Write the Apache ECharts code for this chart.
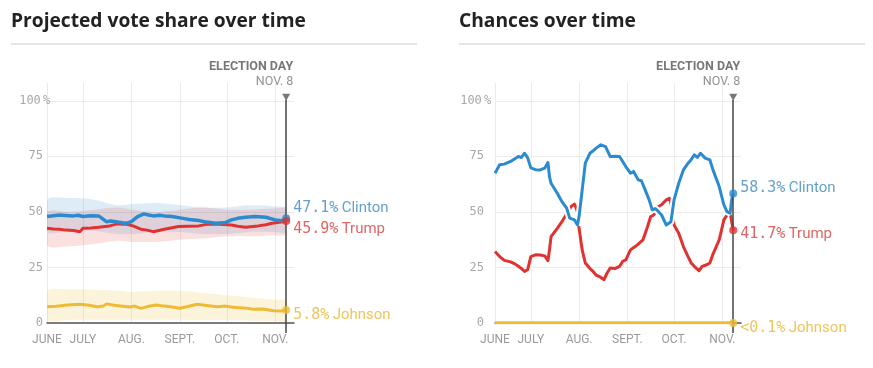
<!DOCTYPE html>
<html><head><meta charset="utf-8">
<script src="https://cdn.jsdelivr.net/npm/echarts@6/dist/echarts.min.js"></script>
<style>html,body{margin:0;padding:0;background:#fff}#c{width:873px;height:368px}</style>
</head><body><div id="c"></div>
<script>
// ---------- axis / tick data ----------
const monthDays = [0, 23, 54, 85, 115, 146];           // days since June 8
const monthLabels = ['JUNE', 'JULY', 'AUG.', 'SEPT.', 'OCT.', 'NOV.'];
const yTicks = [0, 25, 50, 75, 100];
const electionDay = 153;                                 // Nov. 8
const candidates = ['Clinton', 'Trump', 'Johnson'];

// ---------- Projected vote share ----------
const vsClintonDays = [0,4,8,12,17,20,23,28,33,35,38,41,44,48,51,54,56,58,62,65,68,72,75,80,86,91,97,102,108,114,118,122,127,133,140,146,151,153];
const vsClinton     = [47.9,48.3,48.6,48.4,48.2,48.5,47.9,48.3,48.2,47.2,45.6,45.9,45.6,45.1,44.9,45.6,46.8,47.9,49.1,48.6,48.2,48.5,48.2,47.9,47.2,46.6,46.1,45.4,44.9,45.2,46.4,47.1,47.6,47.9,47.6,46.4,46.0,47.1];
const vsTrumpDays = [0,4,8,12,17,21,23,28,33,40,45,51,55,60,64,68,75,80,84,90,97,103,110,118,122,127,135,140,144,150,153];
const vsTrump     = [42.6,42.3,42.2,41.8,41.6,41.1,42.6,42.8,43.1,43.7,44.6,44.4,43.7,42.2,41.8,41.1,42.2,42.9,43.4,43.5,43.7,44.5,44.4,44.1,43.5,43.1,43.7,44.2,44.9,45.4,45.9];
const vsJohnsonDays = [0,6,13,21,27,32,36,38,43,47,53,56,60,65,70,75,80,85,90,96,102,109,114,119,126,132,138,145,150,153];
const vsJohnson     = [7.3,7.5,8.1,8.4,8.0,7.3,7.6,8.6,8.0,7.7,7.2,7.6,6.6,7.5,8.1,7.6,7.2,6.6,7.4,8.4,7.9,7.3,7.6,7.1,6.8,6.2,6.3,5.5,5.4,5.8];
const bandDays   = [0,15,30,45,55,70,85,100,115,130,145,153];
const clintonHi  = [55.5,56.2,55.5,53.0,53.5,54.0,53.0,52.0,52.0,53.0,52.5,51.5];
const clintonLo  = [41.0,41.5,41.5,40.0,40.0,41.0,41.0,40.0,40.0,41.0,41.0,41.0];
const trumpHi    = [50.0,50.0,51.0,52.0,51.0,50.0,51.0,52.0,51.0,51.0,51.5,51.5];
const trumpLo    = [35.0,34.5,35.5,37.0,36.5,36.5,37.5,38.0,39.0,39.0,39.5,40.0];
const johnsonHi  = [14.5,15.0,15.0,14.5,14.0,14.5,14.5,13.5,12.5,11.5,10.5,10.0];
const johnsonLo  = [1.5,1.5,1.5,1.5,1.5,1.5,1.5,1.3,1.2,1.0,1.0,1.0];
const vsFinal     = [47.1, 45.9, 5.8];
const vsFinalText = ['47.1%', '45.9%', '5.8%'];

// ---------- Chances over time ----------
const chClintonDays = [0,3,6,10,13,15,17,19,21,23,26,29,32,34,35,36,40,43,46,48,51,53,54,56,58,61,63,65,68,71,74,77,80,82,84,87,89,92,94,96,99,101,103,105,107,110,113,115,118,121,124,126,128,130,132,135,138,140,144,147,149,151,152,153];
const chClinton     = [67.4,71.2,71.5,72.7,74.0,74.9,74.5,76.4,74.3,69.8,69.0,68.9,69.7,72.2,65.9,62.9,58.4,54.6,51.7,47.2,46.4,44.1,47.9,59.9,71.9,76.4,77.5,78.7,80.2,79.4,74.9,75.0,74.9,72.7,70.4,67.4,68.2,64.4,64.0,60.7,55.4,50.9,51.5,50.1,48.6,44.1,45.6,55.4,62.9,68.9,71.9,73.5,75.7,74.5,76.4,74.2,73.4,68.9,61.4,53.2,50.1,49.4,55.4,58.3];
const chTrumpDays = [0,3,6,10,13,15,17,19,21,23,26,29,32,34,35,36,40,43,45,48,49,51,52,53,54,56,58,61,63,65,68,70,72,74,77,80,82,84,87,90,92,95,98,100,102,105,107,110,112,113,115,118,121,124,126,128,131,133,136,138,140,144,147,149,151,152,153];
const chTrump     = [32.2,29.9,28.2,27.5,26.5,25.5,24.5,23.2,24.0,29.9,30.7,30.6,30.2,28.0,33.0,38.9,42.6,45.6,47.9,51.5,52.5,53.5,52.0,50.0,42.6,32.9,27.0,24.5,23.2,21.5,20.5,19.5,22.5,24.7,24.5,25.5,27.7,28.4,32.9,34.4,35.5,37.4,43.4,47.9,48.6,52.4,53.2,55.4,56.1,54.0,44.1,40.4,34.4,29.9,27.0,25.5,23.5,25.5,26.2,27.0,31.0,37.4,46.4,48.6,50.0,45.6,41.7];
const chJohnsonDays = [0,40,80,120,153];
const chJohnson     = [0.1,0.1,0.1,0.1,0.1];
const chFinal     = [58.3, 41.7, 0.1];
const chFinalText = ['58.3%', '41.7%', '<0.1%'];

// ---------- styling ----------
const lineColors = ['#2b8bd0', '#e03331', '#efbb35'];
const textColors = ['#3d88bd', '#d7403c', '#e8b733'];
const bandColors = ['rgba(47,139,204,0.16)', 'rgba(224,51,49,0.15)', 'rgba(239,187,53,0.18)'];

const zip = (xs, ys) => xs.map((x, i) => [x, ys[i]]);

const chart = echarts.init(document.getElementById('c'));

function xAxisCfg(i) {
  return {
    type: 'value', gridIndex: i, min: 0, max: 158,
    axisLine: { show: true, onZero: true, lineStyle: { color: '#555', width: 1.5 } },
    axisTick: { show: false, customValues: monthDays },
    axisLabel: {
      customValues: monthDays,
      formatter: v => monthLabels[monthDays.indexOf(v)] || '',
      color: '#9a9a9a', fontSize: 12, fontFamily: 'Roboto', margin: 11
    },
    splitLine: { show: true, lineStyle: { color: '#ebebeb', width: 1 } }
  };
}
// extra axis per grid: only carries the election-day tick that pokes below the baseline
function electionTickAxis(i) {
  return {
    type: 'value', gridIndex: i, min: 0, max: 158, position: 'bottom',
    axisLine: { show: false }, splitLine: { show: false }, axisLabel: { show: false },
    axisTick: { show: true, customValues: [electionDay], length: 10, lineStyle: { color: '#444', width: 1.5 } }
  };
}
function yAxisCfg(i, gap) {
  const W = 26;
  return {
    type: 'value', gridIndex: i, min: 0, max: 108,
    axisLine: { show: false }, axisTick: { show: false, customValues: yTicks },
    axisLabel: {
      customValues: yTicks, margin: gap + W, align: 'left',
      formatter: v => v === 100 ? '{n|100}{p|%}' : '{n|' + v + '}',
      rich: {
        n: { fontFamily: 'DejaVu Sans Mono', fontSize: 12, color: '#a8a8a8', width: W, align: 'right' },
        p: { fontFamily: 'DejaVu Sans Mono', fontSize: 12, color: '#a8a8a8' }
      }
    },
    splitLine: { show: true, lineStyle: { color: '#ebebeb', width: 1 } }
  };
}

function band(i, lo, hi, k) {
  return {
    type: 'custom', xAxisIndex: i, yAxisIndex: i, silent: true, clip: true,
    encode: { x: 0, y: 1 },
    data: [[bandDays[0], lo[0]]],
    renderItem: (params, api) => {
      const top = bandDays.map((d, j) => api.coord([d, hi[j]]));
      const bot = bandDays.map((d, j) => api.coord([d, lo[j]])).reverse();
      const x0 = top[0][0], x1 = top[top.length - 1][0];
      return { type: 'polygon',
        shape: { points: top.concat(bot), smooth: 0.3, smoothConstraint: [[x0, -10000], [x1, 10000]] },
        style: { fill: bandColors[k] } };
    }
  };
}
function line(i, days, vals, k, width) {
  return { type: 'line', xAxisIndex: i, yAxisIndex: i, data: zip(days, vals), symbol: 'none',
    lineStyle: { color: lineColors[k], width: width, join: 'round' }, silent: true };
}
function ends(i, finals, texts, offsets) {
  return {
    type: 'scatter', xAxisIndex: i, yAxisIndex: i, symbolSize: 8, silent: true, z: 5,
    data: candidates.map((n, k) => ({
      value: [electionDay, i === 1 && k === 2 ? 0 : finals[k]],
      itemStyle: { color: lineColors[k] },
      label: {
        show: true, position: 'right', distance: 3, offset: [0, offsets[k]],
        formatter: '{n|' + texts[k] + '} {t|' + n + '}',
        rich: {
          n: { fontFamily: 'DejaVu Sans Mono', fontSize: 15, color: textColors[k] },
          t: { fontFamily: 'Roboto', fontSize: 15, color: textColors[k] }
        }
      }
    }))
  };
}
function marker(i) {
  return {
    type: 'scatter', xAxisIndex: i, yAxisIndex: i, silent: true, z: 6,
    symbol: 'triangle', symbolRotate: 180, symbolSize: [8, 7],
    itemStyle: { color: '#555' },
    data: [{
      value: [electionDay, 101.6],
      label: {
        show: true, position: 'top', align: 'right', offset: [7, 1],
        formatter: '{a|ELECTION DAY}\n{b|NOV. 8}',
        rich: {
          a: { fontFamily: 'Roboto', fontWeight: 'bold', fontSize: 12.5, color: '#555', align: 'right', lineHeight: 15 },
          b: { fontFamily: 'Roboto', fontSize: 12.5, color: '#777', align: 'right', lineHeight: 15 }
        }
      }
    }],
    markLine: {
      silent: true, symbol: ['none', 'none'], label: { show: false },
      lineStyle: { color: '#444', width: 1.5, type: 'solid' },
      data: [[{ coord: [electionDay, 100.5] }, { coord: [electionDay, 0] }]]
    }
  };
}

const series = [
  band(0, clintonLo, clintonHi, 0),
  band(0, trumpLo, trumpHi, 1),
  band(0, johnsonLo, johnsonHi, 2),
  line(0, vsJohnsonDays, vsJohnson, 2, 3),
  line(0, vsTrumpDays, vsTrump, 1, 3),
  line(0, vsClintonDays, vsClinton, 0, 3.5),
  ends(0, vsFinal, vsFinalText, [-10, 8, 5]),
  marker(0),
  line(1, chJohnsonDays, chJohnson, 2, 3),
  line(1, chTrumpDays, chTrump, 1, 3),
  Object.assign(line(1, chClintonDays, chClinton, 0, 7), { lineStyle: { color: '#fff', width: 7 } }),
  line(1, chClintonDays, chClinton, 0, 3),
  ends(1, chFinal, chFinalText, [-5, 4, 5]),
  marker(1)
];

chart.setOption({
  animation: false,
  title: [
    { text: 'Projected vote share over time', left: 11, top: 12, padding: 0,
      textStyle: { fontFamily: 'Open Sans', fontWeight: 'bold', fontSize: 19.2, color: '#222' } },
    { text: 'Chances over time', left: 459, top: 12, padding: 0,
      textStyle: { fontFamily: 'Open Sans', fontWeight: 'bold', fontSize: 19.2, color: '#222' } }
  ],
  graphic: [
    { type: 'line', shape: { x1: 11, y1: 44, x2: 417, y2: 44 }, style: { stroke: '#dcdcdc', lineWidth: 1.5 }, silent: true },
    { type: 'line', shape: { x1: 459, y1: 44, x2: 865, y2: 44 }, style: { stroke: '#dcdcdc', lineWidth: 1.5 }, silent: true }
  ],
  grid: [
    { left: 47, right: 579, top: 83, bottom: 45 },
    { left: 495, right: 132, top: 83, bottom: 45 }
  ],
  xAxis: [xAxisCfg(0), xAxisCfg(1), electionTickAxis(0), electionTickAxis(1)],
  yAxis: [yAxisCfg(0, 4), yAxisCfg(1, 11)],
  series: series
});
</script></body></html>
